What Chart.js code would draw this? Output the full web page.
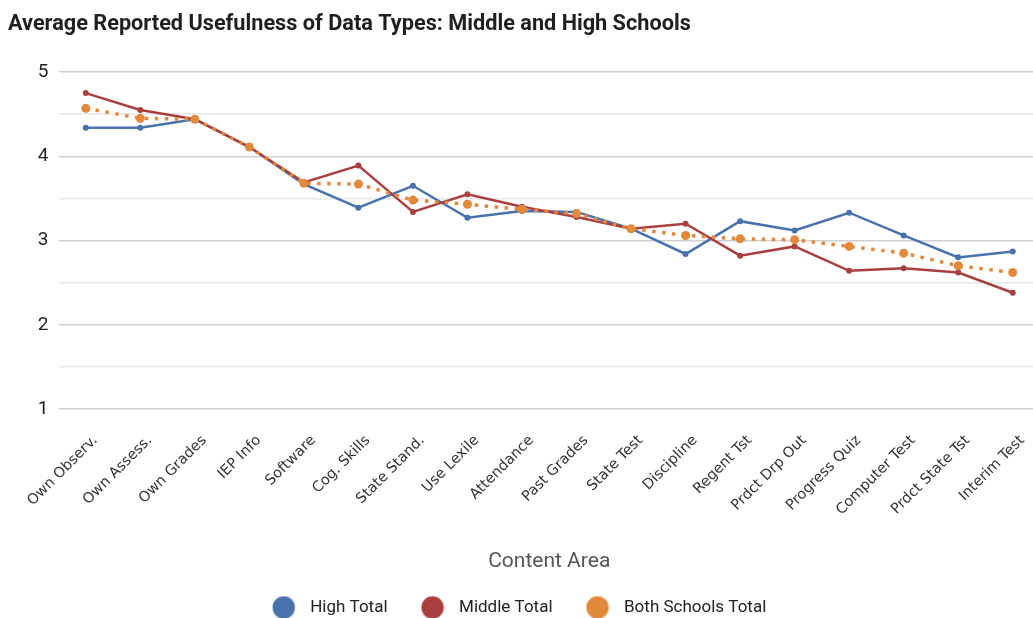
<!DOCTYPE html>
<html>
<head>
<meta charset="utf-8">
<script src="https://cdn.jsdelivr.net/npm/chart.js@4/dist/chart.umd.min.js"></script>
<style>
  html, body { margin: 0; padding: 0; background: #fff; overflow: hidden; }
  #wrap { position: relative; width: 1046px; height: 618px; }
</style>
</head>
<body>
<div id="wrap"><canvas id="c" width="1046" height="618"></canvas></div>
<script>
// Data types, in the order they appear along the horizontal axis
const categories = [
  'Own Observ.', 'Own Assess.', 'Own Grades', 'IEP Info', 'Software', 'Cog. Skills',
  'State Stand.', 'Use Lexile', 'Attendance', 'Past Grades', 'State Test', 'Discipline',
  'Regent Tst', 'Prdct Drp Out', 'Progress Quiz', 'Computer Test', 'Prdct State Tst', 'Interim Test'
];

// Average reported usefulness per school group
const highTotal   = [4.34, 4.34, 4.44, 4.11, 3.67, 3.39, 3.65, 3.27, 3.35, 3.34, 3.14, 2.84, 3.23, 3.12, 3.33, 3.06, 2.80, 2.87];
const middleTotal = [4.75, 4.55, 4.44, 4.11, 3.69, 3.89, 3.34, 3.55, 3.40, 3.28, 3.14, 3.20, 2.82, 2.93, 2.64, 2.67, 2.62, 2.38];
const bothTotal   = [4.57, 4.45, 4.44, 4.11, 3.68, 3.67, 3.48, 3.43, 3.37, 3.32, 3.14, 3.06, 3.02, 3.01, 2.93, 2.85, 2.70, 2.62];

const seriesNames = ['High Total', 'Middle Total', 'Both Schools Total'];

// Value axis: gridlines every half point, labels on whole points
const yGridValues = [1, 1.5, 2, 2.5, 3, 3.5, 4, 4.5, 5];
const yTickLabels = [1, 2, 3, 4, 5];

const BLUE = '#4872ad';
const RED = '#a9403f';
const ORANGE = '#e3893c';

Chart.defaults.font.family = 'Roboto';

// Solid round swatch for the legend
function legendDot(color) {
  const c = document.createElement('canvas');
  c.width = 24; c.height = 24;
  const g = c.getContext('2d');
  g.fillStyle = color;
  g.beginPath();
  g.arc(12, 12, 11.2, 0, Math.PI * 2);
  g.fill();
  return c;
}
const dots = [legendDot(BLUE), legendDot(RED), legendDot(ORANGE)];

// Nudge the centred legend row a little to the left
const legendShift = {
  id: 'legendShift',
  afterLayout(chart) {
    const lg = chart.legend;
    if (lg) { lg.left -= 8; lg.right -= 8; }
  }
};

new Chart(document.getElementById('c'), {
  type: 'line',
  plugins: [legendShift],
  data: {
    labels: categories,
    datasets: [
      {
        label: seriesNames[0], data: highTotal, order: 2,
        borderColor: BLUE, backgroundColor: BLUE, borderWidth: 2.5,
        pointRadius: 3, pointBorderWidth: 0, pointBackgroundColor: BLUE, tension: 0
      },
      {
        label: seriesNames[1], data: middleTotal, order: 1,
        borderColor: RED, backgroundColor: RED, borderWidth: 2.5,
        pointRadius: 3, pointBorderWidth: 0, pointBackgroundColor: RED, tension: 0
      },
      {
        label: seriesNames[2], data: bothTotal, order: 0,
        borderColor: ORANGE, backgroundColor: ORANGE, borderWidth: 3.5,
        borderDash: [3.5, 6.5],
        pointRadius: 4.5, pointBorderWidth: 0, pointBackgroundColor: ORANGE, tension: 0
      }
    ]
  },
  options: {
    responsive: false,
    animation: false,
    devicePixelRatio: 1,
    layout: { padding: { left: 8, right: 6, top: 0, bottom: -8 } },
    plugins: {
      tooltip: { enabled: false },
      title: {
        display: true,
        text: 'Average Reported Usefulness of Data Types: Middle and High Schools',
        align: 'start',
        color: '#1f1f1f',
        font: { family: 'Roboto', size: 21.7, weight: 'bold' },
        padding: { top: 12, bottom: 34 }
      },
      legend: {
        position: 'bottom',
        labels: {
          usePointStyle: true,
          pointStyleWidth: 36,
          boxHeight: 15,
          padding: 27,
          color: '#222',
          font: { family: 'Roboto', size: 17 },
          generateLabels: (chart) => chart.data.datasets.map((ds, i) => ({
            text: ds.label,
            fillStyle: ds.borderColor,
            strokeStyle: ds.borderColor,
            lineWidth: 0,
            pointStyle: dots[i],
            hidden: false,
            datasetIndex: i,
            fontColor: '#222'
          }))
        }
      }
    },
    scales: {
      x: {
        offset: true,
        grid: { display: false },
        border: { display: false },
        ticks: {
          autoSkip: false,
          maxRotation: 45,
          minRotation: 45,
          padding: 15,
          labelOffset: 9.5,
          color: '#333',
          font: { family: 'DejaVu Sans', size: 14.5 }
        },
        title: {
          display: true,
          text: 'Content Area',
          color: '#555',
          font: { family: 'Roboto', size: 21 },
          padding: { top: 0, bottom: -2 }
        },
        afterFit: (scale) => { scale.height = 163; }
      },
      y: {
        min: 1,
        max: 5,
        border: { display: false },
        grid: {
          drawTicks: false,
          lineWidth: 1.5,
          color: (ctx) => Number.isInteger(ctx.tick.value) ? '#d0d0d0' : '#e8e8e8'
        },
        afterBuildTicks: (scale) => { scale.ticks = yGridValues.map(v => ({ value: v })); },
        ticks: {
          padding: 10,
          color: '#222',
          font: { family: 'Roboto', size: 19 },
          callback: (v) => yTickLabels.includes(v) ? String(v) : ''
        },
        afterFit: (scale) => { scale.width = 50.5; }
      }
    }
  }
});
</script>
</body>
</html>
